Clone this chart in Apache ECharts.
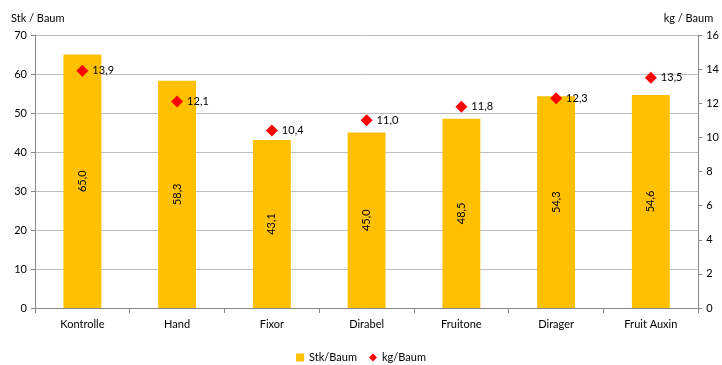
<!DOCTYPE html>
<html>
<head>
<meta charset="utf-8">
<script src="https://cdn.jsdelivr.net/npm/echarts@6/dist/echarts.min.js"></script>
<style>html,body{margin:0;padding:0;background:#fff}#main{width:722px;height:365px}</style>
</head>
<body>
<div id="main"></div>
<script>
var categories = ['Kontrolle', 'Hand', 'Fixor', 'Dirabel', 'Fruitone', 'Dirager', 'Fruit Auxin'];
var stkBaum = [65.0, 58.3, 43.1, 45.0, 48.5, 54.3, 54.6];
var kgBaum = [13.9, 12.1, 10.4, 11.0, 11.8, 12.3, 13.5];

var fmt = function (p) { return p.value.toFixed(1).replace('.', ','); };
var font = 'Lato, "Open Sans", sans-serif';

var myChart = echarts.init(document.getElementById('main'));
var option = {
  textStyle: { fontFamily: font },
  animation: false,
  grid: { left: 35, right: 22, top: 35, bottom: 57 },
  legend: {
    bottom: -3,
    left: 'center',
    itemWidth: 8,
    itemHeight: 8,
    itemGap: 12,
    textStyle: { fontSize: 11, color: '#000', fontFamily: font },
    data: [
      { name: 'Stk/Baum', icon: 'rect' },
      { name: 'kg/Baum', icon: 'diamond' }
    ]
  },
  xAxis: {
    type: 'category',
    data: categories,
    axisLine: { lineStyle: { color: '#888' } },
    axisTick: { show: true, alignWithLabel: false, length: 5, lineStyle: { color: '#888' } },
    axisLabel: { color: '#000', fontSize: 11, margin: 11 }
  },
  yAxis: [
    {
      type: 'value', min: 0, max: 70, interval: 10,
      name: 'Stk / Baum', nameGap: 11,
      nameTextStyle: { color: '#000', fontSize: 11, align: 'left', padding: [0, 0, 0, -24] },
      axisLine: { show: true, lineStyle: { color: '#888' } },
      axisTick: { show: true, length: 4, lineStyle: { color: '#888' } },
      axisLabel: { color: '#000', fontSize: 11, margin: 8 },
      splitLine: { lineStyle: { color: '#bdbdbd' } }
    },
    {
      type: 'value', min: 0, max: 16, interval: 2,
      name: 'kg / Baum', nameGap: 11,
      nameTextStyle: { color: '#000', fontSize: 11, align: 'right', padding: [0, -15, 0, 0] },
      axisLine: { show: true, lineStyle: { color: '#888' } },
      axisTick: { show: true, length: 4, lineStyle: { color: '#888' } },
      axisLabel: { color: '#000', fontSize: 11, margin: 8 },
      splitLine: { show: false }
    }
  ],
  series: [
    {
      name: 'Stk/Baum',
      type: 'bar',
      yAxisIndex: 0,
      barWidth: '40%',
      itemStyle: { color: '#FFC000' },
      label: {
        show: true, position: 'inside', rotate: 90,
        color: '#000', fontSize: 11, formatter: fmt
      },
      data: stkBaum
    },
    {
      name: 'kg/Baum',
      type: 'line',
      yAxisIndex: 1,
      symbol: 'diamond',
      symbolSize: 12,
      lineStyle: { width: 0, opacity: 0 },
      itemStyle: { color: '#FF0000' },
      label: {
        show: true, position: 'right', distance: 4,
        color: '#000', fontSize: 11, formatter: fmt
      },
      data: kgBaum
    }
  ]
};
myChart.setOption(option);
</script>
</body>
</html>
